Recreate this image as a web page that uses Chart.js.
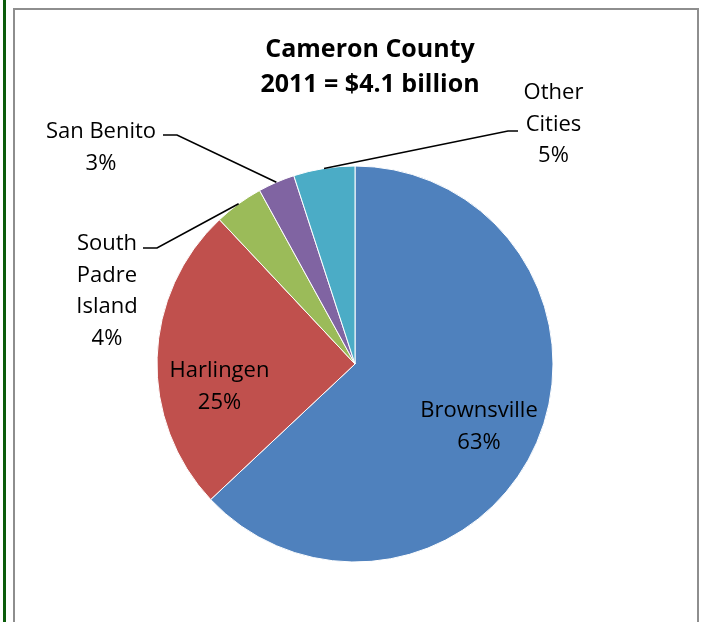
<!DOCTYPE html>
<html>
<head>
<meta charset="utf-8">
<title>Cameron County 2011</title>
<style>
  html, body { margin: 0; padding: 0; background: #ffffff; }
  #wrap { position: relative; width: 704px; height: 622px; overflow: hidden; }
  #edge { position: absolute; left: 3px; top: 0; width: 3px; height: 622px; background: #0a5c0a; }
  #frame { position: absolute; left: 13px; top: 8px; width: 682px; height: 660px; border: 2px solid #8e8e8e; }
  #c { position: absolute; left: 0; top: 0; }
</style>
<script src="https://cdn.jsdelivr.net/npm/chart.js@4/dist/chart.umd.min.js"></script>
</head>
<body>
<div id="wrap">
  <div id="edge"></div>
  <div id="frame"></div>
  <canvas id="c" width="704" height="622"></canvas>
</div>
<script>
// Share of the county total by city, in percent
const categories = ['Brownsville', 'Harlingen', 'South Padre Island', 'San Benito', 'Other Cities'];
const shares = [63, 25, 4, 3, 5];
const sliceColors = ['#4f81bd', '#c0504d', '#9bbb59', '#8064a2', '#4bacc6'];
// How each category name is broken over lines in its label
const labelLines = [['Brownsville'], ['Harlingen'], ['South', 'Padre', 'Island'], ['San Benito'], ['Other', 'Cities']];
const titleLines = ['Cameron County', '2011 = $4.1 billion'];

// Label anchors, as offsets from the pie centre; leaders run from the
// middle of the slice edge to an elbow, then a short horizontal tick.
const placements = [
  { dx: 124, dy: 53 },
  { dx: -135.5, dy: 13 },
  { dx: -248, dy: -114, elbow: [-198, -116], tick: [-212, -116] },
  { dx: -254, dy: -226, elbow: [-178, -229], tick: [-192, -229] },
  { dx: 198.5, dy: -265, elbow: [153, -233], tick: [163, -233] }
];

const pieLabels = {
  id: 'pieLabels',
  afterDatasetsDraw(chart, args, opts) {
    const ctx = chart.ctx;
    const meta = chart.getDatasetMeta(0);
    ctx.save();
    ctx.fillStyle = '#000000';
    ctx.strokeStyle = '#000000';
    ctx.lineWidth = 1.6;
    ctx.textAlign = 'center';
    ctx.textBaseline = 'alphabetic';
    ctx.font = opts.font;
    meta.data.forEach((arc, i) => {
      const p = placements[i];
      const cx = arc.x, cy = arc.y;
      if (p.elbow) {
        const mid = (arc.startAngle + arc.endAngle) / 2;
        const r = arc.outerRadius;
        ctx.beginPath();
        ctx.moveTo(cx + Math.cos(mid) * r, cy + Math.sin(mid) * r);
        ctx.lineTo(cx + p.elbow[0], cy + p.elbow[1]);
        ctx.lineTo(cx + p.tick[0], cy + p.tick[1]);
        ctx.stroke();
      }
      const lines = labelLines[i].concat([shares[i] + '%']);
      lines.forEach((t, k) => ctx.fillText(t, cx + p.dx, cy + p.dy + k * opts.lineHeight));
    });
    // chart title
    ctx.font = opts.titleFont;
    titleLines.forEach((t, k) => ctx.fillText(t, opts.titleX, opts.titleY + k * opts.titleLineHeight));
    ctx.restore();
  }
};

new Chart(document.getElementById('c'), {
  type: 'pie',
  data: {
    labels: categories,
    datasets: [{
      data: shares,
      backgroundColor: sliceColors,
      borderColor: '#ffffff',
      borderWidth: 1
    }]
  },
  options: {
    responsive: false,
    devicePixelRatio: 1,
    animation: false,
    layout: { padding: { left: 156.5, right: 150.5, top: 165.5, bottom: 59.5 } },
    plugins: {
      legend: { display: false },
      tooltip: { enabled: false },
      pieLabels: {
        font: '22px "Open Sans"',
        lineHeight: 31.5,
        titleFont: 'bold 25px "Open Sans"',
        titleX: 370,
        titleY: 57,
        titleLineHeight: 35
      }
    }
  },
  plugins: [pieLabels]
});
</script>
</body>
</html>
